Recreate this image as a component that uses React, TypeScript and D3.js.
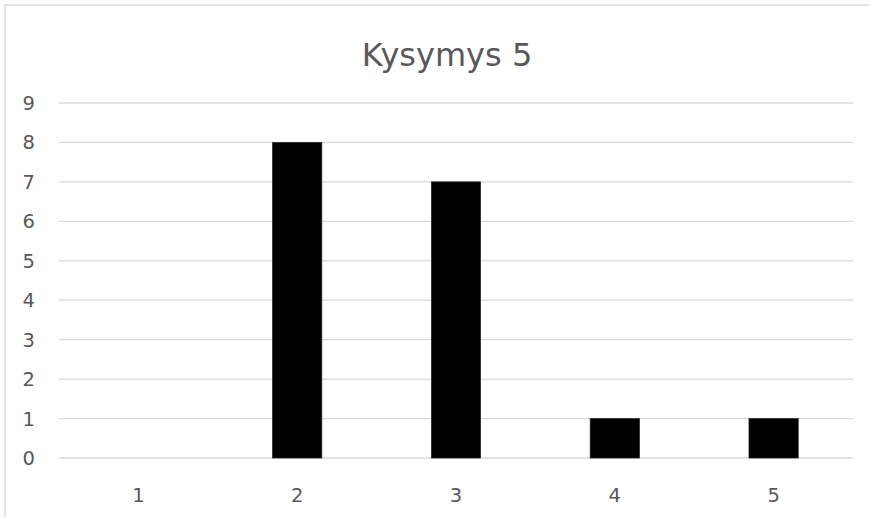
import React, { useRef, useEffect } from 'react';
import * as d3 from 'd3';

const title = 'Kysymys 5';
const categories = ['1', '2', '3', '4', '5'];
const values = [0, 8, 7, 1, 1];
const yTicks = [0, 1, 2, 3, 4, 5, 6, 7, 8, 9];

const W = 869;
const H = 517;

const App: React.FC = () => {
  const svgRef = useRef<SVGSVGElement>(null);

  useEffect(() => {
    if (!svgRef.current) return;
    const svg = d3.select(svgRef.current);
    svg.selectAll('*').remove();

    const font = 'Tahoma, "DejaVu Sans", Verdana, sans-serif';
    const textColor = '#595959';
    const gridColor = '#d9d9d9';

    // chart frame (extends past the image on right and bottom)
    svg.append('rect')
      .attr('x', 5)
      .attr('y', 5)
      .attr('width', W + 20)
      .attr('height', H + 20)
      .attr('fill', '#ffffff')
      .attr('stroke', gridColor)
      .attr('stroke-width', 1.5);

    const margin = { top: 103, right: 16, bottom: 59, left: 59 };
    const innerWidth = W - margin.left - margin.right;
    const innerHeight = H - margin.top - margin.bottom;

    const x = d3.scaleBand<string>()
      .domain(categories)
      .range([0, innerWidth])
      .paddingInner(0.69)
      .paddingOuter(0.345);

    const y = d3.scaleLinear().domain([0, 9]).range([innerHeight, 0]);

    const g = svg.append('g').attr('transform', `translate(${margin.left},${margin.top})`);

    // gridlines
    g.append('g')
      .selectAll('line')
      .data(yTicks)
      .enter()
      .append('line')
      .attr('x1', 0)
      .attr('x2', innerWidth)
      .attr('y1', d => y(d))
      .attr('y2', d => y(d))
      .attr('stroke', gridColor)
      .attr('stroke-width', 1.3);

    // y labels
    g.append('g')
      .selectAll('text')
      .data(yTicks)
      .enter()
      .append('text')
      .attr('x', -24)
      .attr('y', d => y(d))
      .attr('dy', '0.36em')
      .attr('text-anchor', 'end')
      .style('font-family', font)
      .style('font-size', '19.5px')
      .style('fill', textColor)
      .text(d => String(d));

    // bars
    g.append('g')
      .selectAll('rect')
      .data(values)
      .enter()
      .append('rect')
      .attr('x', (d, i) => x(categories[i]) as number)
      .attr('y', d => y(d))
      .attr('width', x.bandwidth())
      .attr('height', d => innerHeight - y(d))
      .attr('fill', '#000000')
      .attr('stroke', '#262626')
      .attr('stroke-width', d => (d > 0 ? 0.75 : 0));

    // x labels
    g.append('g')
      .selectAll('text')
      .data(categories)
      .enter()
      .append('text')
      .attr('x', d => (x(d) as number) + x.bandwidth() / 2)
      .attr('y', innerHeight + 37)
      .attr('dy', '0.36em')
      .attr('text-anchor', 'middle')
      .style('font-family', font)
      .style('font-size', '19.5px')
      .style('fill', textColor)
      .text(d => d);

    // title
    svg.append('text')
      .attr('x', 447)
      .attr('y', 66)
      .attr('text-anchor', 'middle')
      .style('font-family', font)
      .style('font-size', '32px')
      .style('fill', textColor)
      .text(title);
  }, []);

  return (
    <svg
      ref={svgRef}
      width={W}
      height={H}
      style={{ position: 'absolute', left: 0, top: 0, display: 'block' }}
    ></svg>
  );
};

export default App;
